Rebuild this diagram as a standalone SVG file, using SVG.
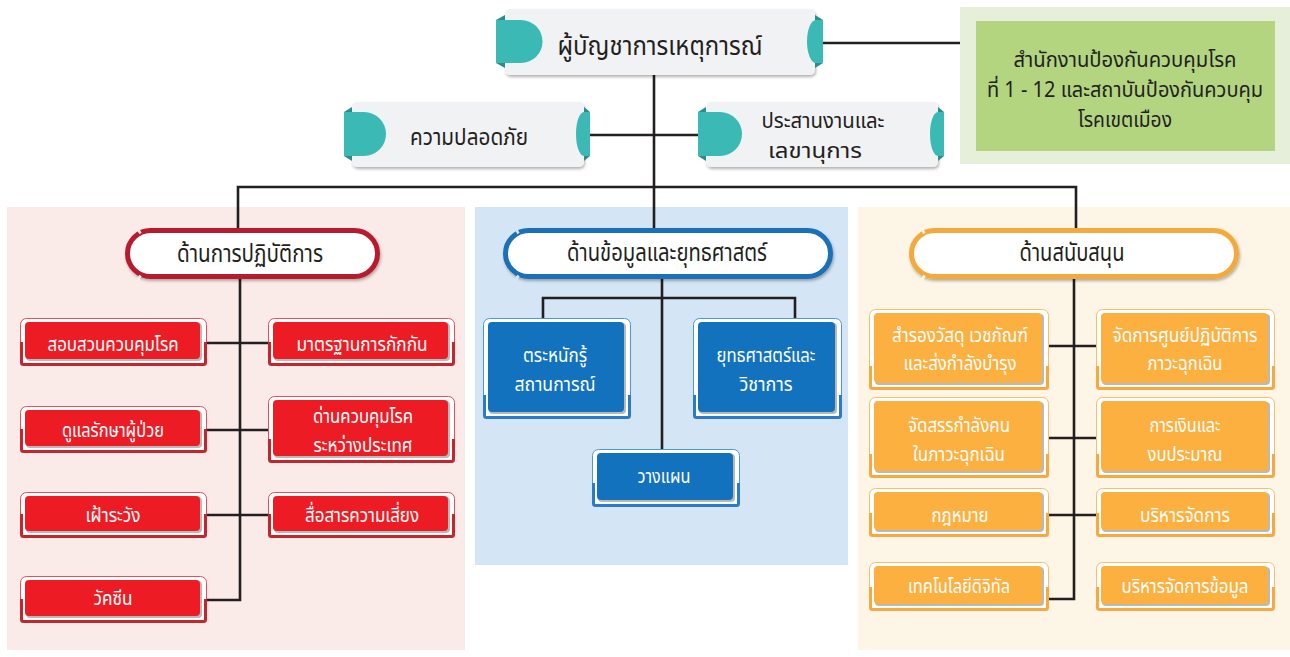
<svg xmlns="http://www.w3.org/2000/svg" width="1290" height="657" viewBox="0 0 1290 657">
<style>
.t{font-family:"Noto Sans Thai","Noto Sans","DejaVu Sans",sans-serif;text-anchor:middle}
.k{fill:#231F20}
.w{fill:#fff;font-size:20px}
.ln{stroke:#231F20;stroke-width:2.6;fill:none}
.tab{fill:#3BBAB5}
.fold{fill:#2B8C88}
.card{fill:#F1F2F4}
.sh{fill:#B9B9B9}
.fr-r{fill:#fff;stroke:#E3505C;stroke-width:1}
.lo-r{fill:none;stroke:#C1272D;stroke-width:3;stroke-linejoin:round}
.in-r{fill:#ED1C24}
.fr-b{fill:#fff;stroke:#4A97DA;stroke-width:1}
.lo-b{fill:none;stroke:#2A7CC8;stroke-width:3;stroke-linejoin:round}
.in-b{fill:#1272BD}
.fr-o{fill:#fff;stroke:#F9BE6A;stroke-width:1}
.lo-o{fill:none;stroke:#F7A940;stroke-width:3;stroke-linejoin:round}
.in-o{fill:#FBB040}
.pill{fill:#fff;stroke-width:5}
.gap{fill:none;stroke-width:2.5}
</style>
<defs>
<filter id="ds" x="-10%" y="-20%" width="120%" height="150%">
<feDropShadow dx="1" dy="2" stdDeviation="1.5" flood-color="#000" flood-opacity="0.3"/>
</filter>
</defs>
<rect width="1290" height="657" fill="#fff"/>
<g id="panels">
<rect x="7" y="207" width="458" height="443" fill="#FBEBE8"/>
<rect x="475" y="207" width="373" height="358" fill="#D4E5F5"/>
<rect x="858" y="207" width="432" height="443" fill="#FDF5E5"/>
</g>
<g id="connectors">
<path class="ln" d="M823,43 H960"/>
<path class="ln" d="M654,75 V187"/>
<path class="ln" d="M590,135 H698"/>
<path class="ln" d="M238,230 V187 H1076 V230"/>
<path class="ln" d="M654,187 V230"/>
<path class="ln" d="M240,279 V600 H207"/>
<path class="ln" d="M207,343 H268 M207,430 H268 M207,515 H268"/>
<path class="ln" d="M662,279 V449"/>
<path class="ln" d="M543,322 V298 H795 V322"/>
<path class="ln" d="M1074,279 V599 H1049"/>
<path class="ln" d="M1049,346 H1096 M1049,438 H1096 M1049,515 H1096"/>
</g>
<g id="commander">
<rect class="card" x="505" y="9" width="310" height="66" rx="5" filter="url(#ds)"/>
<polygon class="fold" points="505,15 496,20 505,20"/>
<polygon class="fold" points="505,68 496,63 505,63"/>
<path class="tab" d="M496,20 H521 A21.5,21.5 0 0 1 521,63 H496 Z"/>
<polygon class="fold" points="815,15 823,20 815,20"/>
<polygon class="fold" points="815,68 823,63 815,63"/>
<path class="tab" d="M823,20 H816 A9,21.5 0 0 0 816,63 H823 Z"/>
<text class="t k" x="660" y="55" font-size="27" textLength="205" lengthAdjust="spacingAndGlyphs">ผู้บัญชาการเหตุการณ์</text>
</g>
<g id="safety">
<rect class="card" x="352" y="102" width="232" height="65" rx="5" filter="url(#ds)"/>
<polygon class="fold" points="352,107 344,112 352,112"/>
<polygon class="fold" points="352,161 344,156 352,156"/>
<path class="tab" d="M344,112 H364 A22,22 0 0 1 364,156 H344 Z"/>
<polygon class="fold" points="584,107 590,112 584,112"/>
<polygon class="fold" points="584,161 590,156 584,156"/>
<path class="tab" d="M590,112 H584 A8,22 0 0 0 584,156 H590 Z"/>
<text class="t k" x="469" y="145" font-size="23" textLength="118" lengthAdjust="spacingAndGlyphs">ความปลอดภัย</text>
</g>
<g id="liaison">
<rect class="card" x="706" y="102" width="232" height="65" rx="5" filter="url(#ds)"/>
<polygon class="fold" points="706,107 698,112 706,112"/>
<polygon class="fold" points="706,161 698,156 706,156"/>
<path class="tab" d="M698,112 H720 A22,22 0 0 1 720,156 H698 Z"/>
<polygon class="fold" points="938,107 944,112 938,112"/>
<polygon class="fold" points="938,161 944,156 938,156"/>
<path class="tab" d="M944,112 H938 A8,22 0 0 0 938,156 H944 Z"/>
<text class="t k" x="823" y="128" font-size="21" textLength="123" lengthAdjust="spacingAndGlyphs">ประสานงานและ</text>
<text class="t k" x="815" y="158" font-size="21" textLength="94" lengthAdjust="spacingAndGlyphs">เลขานุการ</text>
</g>
<g id="ddc">
<rect x="960" y="7" width="330" height="157" fill="#E6EFD9"/>
<rect x="976" y="21" width="299" height="130" fill="#B3D580"/>
<text class="t k" x="1125" y="67" font-size="21" textLength="223" lengthAdjust="spacingAndGlyphs">สำนักงานป้องกันควบคุมโรค</text>
<text class="t k" x="1125" y="97" font-size="21" textLength="276" lengthAdjust="spacingAndGlyphs">ที่ 1 - 12 และสถาบันป้องกันควบคุม</text>
<text class="t k" x="1125" y="127" font-size="21" textLength="94" lengthAdjust="spacingAndGlyphs">โรคเขตเมือง</text>
</g>
<g id="ops-head">
<rect class="pill" x="127.5" y="230.5" width="250" height="46" rx="23" stroke="#B71F2E" filter="url(#ds)"/>
<path class="gap" stroke="#FBEBE8" d="M137,227.5 L140.5,233.5 M137,281.5 L140.5,275.5"/>
<text class="t k" x="250" y="262" font-size="24" textLength="146" lengthAdjust="spacingAndGlyphs">ด้านการปฏิบัติการ</text>
</g>
<g id="info-head">
<rect class="pill" x="505.5" y="230.5" width="325" height="46" rx="23" stroke="#1D6FB8" filter="url(#ds)"/>
<path class="gap" stroke="#D4E5F5" d="M515,227.5 L518.5,233.5 M515,281.5 L518.5,275.5"/>
<text class="t k" x="667" y="261" font-size="24" textLength="200" lengthAdjust="spacingAndGlyphs">ด้านข้อมูลและยุทธศาสตร์</text>
</g>
<g id="sup-head">
<rect class="pill" x="911.5" y="230.5" width="325" height="46" rx="23" stroke="#F3A93B" filter="url(#ds)"/>
<path class="gap" stroke="#FDF5E5" d="M921,227.5 L924.5,233.5 M921,281.5 L924.5,275.5"/>
<text class="t k" x="1072" y="261" font-size="24" textLength="105" lengthAdjust="spacingAndGlyphs">ด้านสนับสนุน</text>
</g>
<g id="r1">
<rect class="fr-r" x="20.5" y="318.5" width="186" height="47" rx="6"/>
<path class="lo-r" d="M21.5,342 V362.5 Q21.5,364.5 23.5,364.5 H203.5 Q205.5,364.5 205.5,362.5 V342"/>
<rect class="sh" x="26" y="323" width="176" height="38" rx="4"/>
<rect class="in-r" x="25" y="322" width="175" height="37" rx="4"/>
<text class="t w" x="113" y="351" textLength="131" lengthAdjust="spacingAndGlyphs">สอบสวนควบคุมโรค</text>
</g>
<g id="r2">
<rect class="fr-r" x="20.5" y="406.5" width="186" height="46" rx="6"/>
<path class="lo-r" d="M21.5,429 V449.5 Q21.5,451.5 23.5,451.5 H203.5 Q205.5,451.5 205.5,449.5 V429"/>
<rect class="sh" x="26" y="411" width="176" height="37" rx="4"/>
<rect class="in-r" x="25" y="410" width="175" height="36" rx="4"/>
<text class="t w" x="113" y="437" textLength="102" lengthAdjust="spacingAndGlyphs">ดูแลรักษาผู้ป่วย</text>
</g>
<g id="r3">
<rect class="fr-r" x="20.5" y="492.5" width="186" height="45" rx="6"/>
<path class="lo-r" d="M21.5,514 V534.5 Q21.5,536.5 23.5,536.5 H203.5 Q205.5,536.5 205.5,534.5 V514"/>
<rect class="sh" x="26" y="497" width="176" height="36" rx="4"/>
<rect class="in-r" x="25" y="496" width="175" height="35" rx="4"/>
<text class="t w" x="113" y="522" textLength="55" lengthAdjust="spacingAndGlyphs">เฝ้าระวัง</text>
</g>
<g id="r4">
<rect class="fr-r" x="20.5" y="576.5" width="186" height="46" rx="6"/>
<path class="lo-r" d="M21.5,599 V619.5 Q21.5,621.5 23.5,621.5 H203.5 Q205.5,621.5 205.5,619.5 V599"/>
<rect class="sh" x="26" y="581" width="176" height="37" rx="4"/>
<rect class="in-r" x="25" y="580" width="175" height="36" rx="4"/>
<text class="t w" x="113" y="605" textLength="39" lengthAdjust="spacingAndGlyphs">วัคซีน</text>
</g>
<g id="r5">
<rect class="fr-r" x="268.5" y="318.5" width="186" height="47" rx="6"/>
<path class="lo-r" d="M269.5,342 V362.5 Q269.5,364.5 271.5,364.5 H451.5 Q453.5,364.5 453.5,362.5 V342"/>
<rect class="sh" x="274" y="323" width="176" height="38" rx="4"/>
<rect class="in-r" x="273" y="322" width="175" height="37" rx="4"/>
<text class="t w" x="362" y="351" textLength="131" lengthAdjust="spacingAndGlyphs">มาตรฐานการกักกัน</text>
</g>
<g id="r6">
<rect class="fr-r" x="268.5" y="396.5" width="186" height="66" rx="6"/>
<path class="lo-r" d="M269.5,439 V459.5 Q269.5,461.5 271.5,461.5 H451.5 Q453.5,461.5 453.5,459.5 V439"/>
<rect class="sh" x="274" y="401" width="176" height="57" rx="4"/>
<rect class="in-r" x="273" y="400" width="175" height="56" rx="4"/>
<text class="t w" x="363" y="423" font-size="18" textLength="100" lengthAdjust="spacingAndGlyphs">ด่านควบคุมโรค</text>
<text class="t w" x="363" y="452" font-size="18" textLength="99" lengthAdjust="spacingAndGlyphs">ระหว่างประเทศ</text>
</g>
<g id="r7">
<rect class="fr-r" x="268.5" y="492.5" width="186" height="45" rx="6"/>
<path class="lo-r" d="M269.5,514 V534.5 Q269.5,536.5 271.5,536.5 H451.5 Q453.5,536.5 453.5,534.5 V514"/>
<rect class="sh" x="274" y="497" width="176" height="36" rx="4"/>
<rect class="in-r" x="273" y="496" width="175" height="35" rx="4"/>
<text class="t w" x="362" y="522" textLength="114" lengthAdjust="spacingAndGlyphs">สื่อสารความเสี่ยง</text>
</g>
<g id="b1">
<rect class="fr-b" x="483.5" y="318.5" width="147" height="100" rx="6"/>
<path class="lo-b" d="M484.5,395 V415.5 Q484.5,417.5 486.5,417.5 H627.5 Q629.5,417.5 629.5,415.5 V395"/>
<rect class="sh" x="489" y="323" width="137" height="91" rx="4"/>
<rect class="in-b" x="488" y="322" width="136" height="90" rx="4"/>
<text class="t w" x="555" y="362" textLength="64" lengthAdjust="spacingAndGlyphs">ตระหนักรู้</text>
<text class="t w" x="555" y="391" textLength="81" lengthAdjust="spacingAndGlyphs">สถานการณ์</text>
</g>
<g id="b2">
<rect class="fr-b" x="693.5" y="318.5" width="148" height="100" rx="6"/>
<path class="lo-b" d="M694.5,395 V415.5 Q694.5,417.5 696.5,417.5 H838.5 Q840.5,417.5 840.5,415.5 V395"/>
<rect class="sh" x="699" y="323" width="138" height="91" rx="4"/>
<rect class="in-b" x="698" y="322" width="137" height="90" rx="4"/>
<text class="t w" x="766" y="362" textLength="99" lengthAdjust="spacingAndGlyphs">ยุทธศาสตร์และ</text>
<text class="t w" x="766" y="391" textLength="53" lengthAdjust="spacingAndGlyphs">วิชาการ</text>
</g>
<g id="b3">
<rect class="fr-b" x="592.5" y="449.5" width="147" height="57" rx="6"/>
<path class="lo-b" d="M593.5,483 V503.5 Q593.5,505.5 595.5,505.5 H736.5 Q738.5,505.5 738.5,503.5 V483"/>
<rect class="sh" x="598" y="454" width="137" height="48" rx="4"/>
<rect class="in-b" x="597" y="453" width="136" height="47" rx="4"/>
<text class="t w" x="664" y="483" textLength="53" lengthAdjust="spacingAndGlyphs">วางแผน</text>
</g>
<g id="o1">
<rect class="fr-o" x="869.5" y="309.5" width="179" height="80" rx="6"/>
<path class="lo-o" d="M870.5,366 V386.5 Q870.5,388.5 872.5,388.5 H1045.5 Q1047.5,388.5 1047.5,386.5 V366"/>
<rect class="sh" x="875" y="314" width="169" height="71" rx="4"/>
<rect class="in-o" x="874" y="313" width="168" height="70" rx="4"/>
<text class="t w" x="960" y="342" textLength="136" lengthAdjust="spacingAndGlyphs">สำรองวัสดุ เวชภัณฑ์</text>
<text class="t w" x="960" y="370" textLength="113" lengthAdjust="spacingAndGlyphs">และส่งกำลังบำรุง</text>
</g>
<g id="o2">
<rect class="fr-o" x="1096.5" y="309.5" width="178" height="80" rx="6"/>
<path class="lo-o" d="M1097.5,366 V386.5 Q1097.5,388.5 1099.5,388.5 H1271.5 Q1273.5,388.5 1273.5,386.5 V366"/>
<rect class="sh" x="1102" y="314" width="168" height="71" rx="4"/>
<rect class="in-o" x="1101" y="313" width="167" height="70" rx="4"/>
<text class="t w" x="1185" y="342" textLength="145" lengthAdjust="spacingAndGlyphs">จัดการศูนย์ปฏิบัติการ</text>
<text class="t w" x="1185" y="370" textLength="75" lengthAdjust="spacingAndGlyphs">ภาวะฉุกเฉิน</text>
</g>
<g id="o3">
<rect class="fr-o" x="869.5" y="397.5" width="179" height="80" rx="6"/>
<path class="lo-o" d="M870.5,454 V474.5 Q870.5,476.5 872.5,476.5 H1045.5 Q1047.5,476.5 1047.5,474.5 V454"/>
<rect class="sh" x="875" y="402" width="169" height="71" rx="4"/>
<rect class="in-o" x="874" y="401" width="168" height="70" rx="4"/>
<text class="t w" x="959" y="432" textLength="102" lengthAdjust="spacingAndGlyphs">จัดสรรกำลังคน</text>
<text class="t w" x="959" y="461" textLength="92" lengthAdjust="spacingAndGlyphs">ในภาวะฉุกเฉิน</text>
</g>
<g id="o4">
<rect class="fr-o" x="1096.5" y="397.5" width="178" height="80" rx="6"/>
<path class="lo-o" d="M1097.5,454 V474.5 Q1097.5,476.5 1099.5,476.5 H1271.5 Q1273.5,476.5 1273.5,474.5 V454"/>
<rect class="sh" x="1102" y="402" width="168" height="71" rx="4"/>
<rect class="in-o" x="1101" y="401" width="167" height="70" rx="4"/>
<text class="t w" x="1185" y="432" textLength="71" lengthAdjust="spacingAndGlyphs">การเงินและ</text>
<text class="t w" x="1185" y="461" textLength="75" lengthAdjust="spacingAndGlyphs">งบประมาณ</text>
</g>
<g id="o5">
<rect class="fr-o" x="869.5" y="488.5" width="179" height="48" rx="6"/>
<path class="lo-o" d="M870.5,513 V533.5 Q870.5,535.5 872.5,535.5 H1045.5 Q1047.5,535.5 1047.5,533.5 V513"/>
<rect class="sh" x="875" y="493" width="169" height="39" rx="4"/>
<rect class="in-o" x="874" y="492" width="168" height="38" rx="4"/>
<text class="t w" x="960" y="522" textLength="57" lengthAdjust="spacingAndGlyphs">กฎหมาย</text>
</g>
<g id="o6">
<rect class="fr-o" x="1096.5" y="488.5" width="178" height="48" rx="6"/>
<path class="lo-o" d="M1097.5,513 V533.5 Q1097.5,535.5 1099.5,535.5 H1271.5 Q1273.5,535.5 1273.5,533.5 V513"/>
<rect class="sh" x="1102" y="493" width="168" height="39" rx="4"/>
<rect class="in-o" x="1101" y="492" width="167" height="38" rx="4"/>
<text class="t w" x="1185" y="522" textLength="90" lengthAdjust="spacingAndGlyphs">บริหารจัดการ</text>
</g>
<g id="o7">
<rect class="fr-o" x="869.5" y="562.5" width="179" height="48" rx="6"/>
<path class="lo-o" d="M870.5,587 V607.5 Q870.5,609.5 872.5,609.5 H1045.5 Q1047.5,609.5 1047.5,607.5 V587"/>
<rect class="sh" x="875" y="567" width="169" height="39" rx="4"/>
<rect class="in-o" x="874" y="566" width="168" height="38" rx="4"/>
<text class="t w" x="959" y="593" textLength="102" lengthAdjust="spacingAndGlyphs">เทคโนโลยีดิจิทัล</text>
</g>
<g id="o8">
<rect class="fr-o" x="1096.5" y="562.5" width="178" height="48" rx="6"/>
<path class="lo-o" d="M1097.5,587 V607.5 Q1097.5,609.5 1099.5,609.5 H1271.5 Q1273.5,609.5 1273.5,607.5 V587"/>
<rect class="sh" x="1102" y="567" width="168" height="39" rx="4"/>
<rect class="in-o" x="1101" y="566" width="167" height="38" rx="4"/>
<text class="t w" x="1185" y="593" textLength="127" lengthAdjust="spacingAndGlyphs">บริหารจัดการข้อมูล</text>
</g>
</svg>
